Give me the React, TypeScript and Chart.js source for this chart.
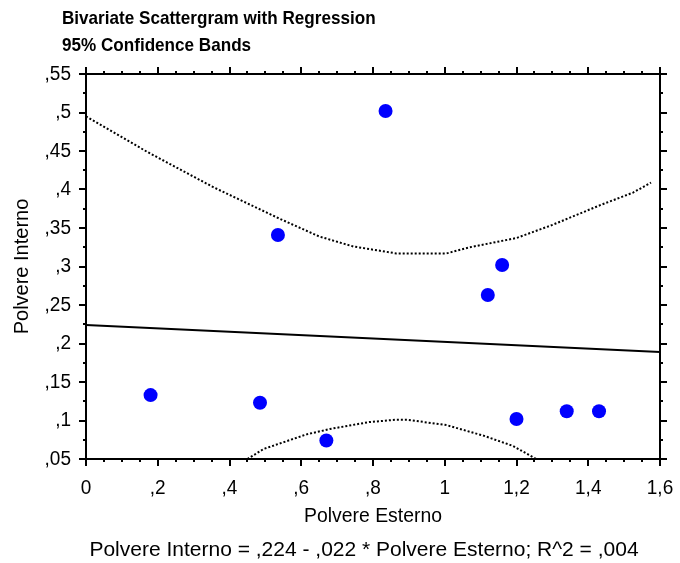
import React, { useEffect, useRef } from "react";
import { Chart, registerables } from "chart.js";

Chart.register(...registerables);

// Observations
const polvereEsterno = [0.18, 0.485, 0.535, 0.67, 0.835, 1.12, 1.16, 1.2, 1.34, 1.43];
const polvereInterno = [0.133, 0.123, 0.341, 0.074, 0.502, 0.263, 0.302, 0.102, 0.112, 0.112];

// Fitted line: Polvere Interno = ,224 - ,022 * Polvere Esterno
const intercept = 0.224;
const slope = -0.022;
const fitRange = [0, 1.6];

// 95% confidence bands
const upperBandX = [0, 0.17, 0.355, 0.54, 0.65, 0.745, 0.865, 1.005, 1.07, 1.2, 1.3, 1.435, 1.525, 1.575];
const upperBandY = [0.495, 0.449, 0.403, 0.362, 0.339, 0.326, 0.317, 0.317, 0.325, 0.337, 0.354, 0.38, 0.396, 0.409];
const lowerBandX = [0.45, 0.495, 0.615, 0.68, 0.79, 0.865, 0.895, 1.005, 1.11, 1.19, 1.255];
const lowerBandY = [0.05, 0.063, 0.082, 0.089, 0.098, 0.101, 0.101, 0.094, 0.08, 0.067, 0.05];

// Axis ticks
const xTicks = [0, 0.2, 0.4, 0.6, 0.8, 1, 1.2, 1.4, 1.6];
const xTickLabels = ["0", ",2", ",4", ",6", ",8", "1", "1,2", "1,4", "1,6"];
const yTicks = [0.05, 0.1, 0.15, 0.2, 0.25, 0.3, 0.35, 0.4, 0.45, 0.5, 0.55];
const yTickLabels = [",05", ",1", ",15", ",2", ",25", ",3", ",35", ",4", ",45", ",5", ",55"];
const xMinorStep = 0.05;
const yMinorStep = 0.025;

const titleLines = ["Bivariate Scattergram with Regression", "95% Confidence Bands"];
const xTitle = "Polvere Esterno";
const yTitle = "Polvere Interno";
const footer = "Polvere Interno = ,224 - ,022 * Polvere Esterno; R^2 = ,004";

const FONT = '"Liberation Sans", Arial, sans-serif';

function drawText(
  ctx: CanvasRenderingContext2D,
  text: string,
  x: number,
  y: number,
  font: string,
  align: CanvasTextAlign,
  sx = 1
) {
  ctx.save();
  ctx.font = font;
  ctx.fillStyle = "#000";
  ctx.textBaseline = "middle";
  ctx.textAlign = align;
  ctx.translate(x, y);
  ctx.scale(sx, 1);
  ctx.fillText(text, 0, 0);
  ctx.restore();
}

const framePlugin = {
  id: "frameAndLabels",
  afterDraw(chart: any) {
    const { ctx, chartArea } = chart;
    const xs = chart.scales.x;
    const ys = chart.scales.y;
    const { left, right, top, bottom } = chartArea;

    ctx.save();
    ctx.strokeStyle = "#000";
    ctx.lineWidth = 2;
    ctx.strokeRect(left, top, right - left, bottom - top);

    const major = 7;
    const minor = 3;
    ctx.beginPath();
    // x ticks on bottom and top edges
    const xMin = xs.min, xMax = xs.max;
    for (let i = 0; i <= Math.round((xMax - xMin) / xMinorStep); i++) {
      const v = xMin + i * xMinorStep;
      const px = Math.round(xs.getPixelForValue(v));
      const isMajor = xTicks.some((t) => Math.abs(t - v) < 1e-6);
      const len = isMajor ? major : minor;
      ctx.moveTo(px, bottom);
      ctx.lineTo(px, bottom + len);
      ctx.moveTo(px, top);
      ctx.lineTo(px, top - len);
    }
    // y ticks on left and right edges
    const yMin = ys.min, yMax = ys.max;
    for (let i = 0; i <= Math.round((yMax - yMin) / yMinorStep); i++) {
      const v = yMin + i * yMinorStep;
      const py = Math.round(ys.getPixelForValue(v));
      const isMajor = yTicks.some((t) => Math.abs(t - v) < 1e-6);
      const len = isMajor ? major : minor;
      ctx.moveTo(left, py);
      ctx.lineTo(left - len, py);
      ctx.moveTo(right, py);
      ctx.lineTo(right + len, py);
    }
    ctx.stroke();
    ctx.restore();

    const tickFont = `20px ${FONT}`;
    xTicks.forEach((t, i) => {
      drawText(ctx, xTickLabels[i], xs.getPixelForValue(t), bottom + 29, tickFont, "center", 0.95);
    });
    yTicks.forEach((t, i) => {
      drawText(ctx, yTickLabels[i], left - 15, ys.getPixelForValue(t), tickFont, "right", 0.95);
    });

    const labelFont = `20px ${FONT}`;
    drawText(ctx, xTitle, (left + right) / 2, bottom + 57, labelFont, "center", 0.97);
    ctx.save();
    ctx.translate(22, (top + bottom) / 2);
    ctx.rotate(-Math.PI / 2);
    drawText(ctx, yTitle, 0, 0, labelFont, "center", 1);
    ctx.restore();

    const titleFont = `bold 19px ${FONT}`;
    drawText(ctx, titleLines[0], 62, 19, titleFont, "left", 0.9);
    drawText(ctx, titleLines[1], 62, 46, titleFont, "left", 0.9);

    drawText(ctx, footer, 364, 550, `21px ${FONT}`, "center", 1);
  },
};

export default function App() {
  const canvasRef = useRef<HTMLCanvasElement | null>(null);

  useEffect(() => {
    const canvas = canvasRef.current;
    if (!canvas) return;

    const points = polvereEsterno.map((x, i) => ({ x, y: polvereInterno[i] }));
    const fitLine = fitRange.map((x) => ({ x, y: intercept + slope * x }));
    const upper = upperBandX.map((x, i) => ({ x, y: upperBandY[i] }));
    const lower = lowerBandX.map((x, i) => ({ x, y: lowerBandY[i] }));

    const chart = new Chart(canvas, {
      type: "scatter",
      data: {
        datasets: [
          {
            label: "Observations",
            data: points,
            backgroundColor: "#0000ff",
            borderWidth: 0,
            pointRadius: 7,
            pointHoverRadius: 7,
          },
          {
            label: "Regression",
            data: fitLine,
            showLine: true,
            borderColor: "#000",
            borderWidth: 2,
            pointRadius: 0,
            clip: 0,
          },
          {
            label: "Upper 95%",
            data: upper,
            showLine: true,
            borderColor: "#000",
            borderWidth: 2,
            borderDash: [2, 2],
            pointRadius: 0,
            clip: 0,
          },
          {
            label: "Lower 95%",
            data: lower,
            showLine: true,
            borderColor: "#000",
            borderWidth: 2,
            borderDash: [2, 2],
            pointRadius: 0,
            clip: 0,
          },
        ],
      },
      options: {
        responsive: false,
        animation: false,
        events: [],
        layout: { padding: { left: 86, right: 20, top: 74, bottom: 104 } },
        scales: {
          x: { type: "linear", min: 0, max: 1.6, display: false },
          y: { type: "linear", min: 0.05, max: 0.55, display: false },
        },
        plugins: {
          legend: { display: false },
          tooltip: { enabled: false },
          title: { display: false },
        },
      },
      plugins: [framePlugin],
    });

    return () => chart.destroy();
  }, []);

  return (
    <div style={{ position: "absolute", left: 0, top: 0, width: 680, height: 563, background: "#fff" }}>
      <canvas ref={canvasRef} width={680} height={563} style={{ display: "block" }} />
    </div>
  );
}
